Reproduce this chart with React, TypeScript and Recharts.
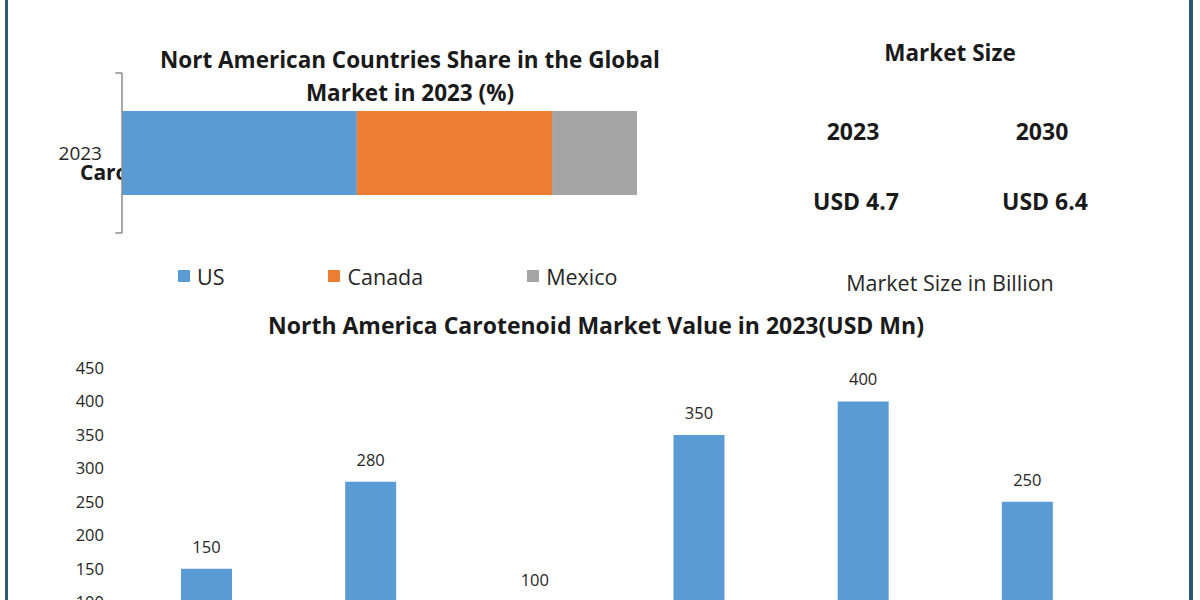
import React from 'react';
import { BarChart, Bar, XAxis, YAxis, Legend, LabelList, ReferenceLine } from 'recharts';

// ---- Top chart: share of North American countries (%)
const shareCategories = ['2023'];
const shareSeries = ['US', 'Canada', 'Mexico'];
const shareValues = [45.6, 37.9, 16.5];
const shareColors = ['#5b9bd5', '#ed7d31', '#a5a5a5'];

// ---- Market size panel
const sizeTitle = 'Market Size';
const sizeYears = ['2023', '2030'];
const sizeValues = ['USD 4.7', 'USD 6.4'];
const sizeNote = 'Market Size in Billion';

// ---- Bottom chart: market value (USD Mn)
const valueCategories = ['Beta-Carotene', 'Lutein', 'Lycopene', 'Astaxanthin', 'Zeaxanthin', 'Canthaxanthin'];
const valueValues = [150, 280, 100, 350, 400, 250];
const valueTicks = [0, 50, 100, 150, 200, 250, 300, 350, 400, 450];

const FONT = '"Open Sans", Lato, sans-serif';
const TEXT = '#1a1a1a';

const shareData = shareCategories.map((c) => {
  const row: Record<string, string | number> = { name: c };
  shareSeries.forEach((s, i) => {
    row[s] = shareValues[i];
  });
  return row;
});

const valueData = valueCategories.map((c, i) => ({ name: c, value: valueValues[i] }));

const ShareLegend = (props: any) => {
  const payload = [...(props.payload || [])].sort(
    (a: any, b: any) => shareSeries.indexOf(a.value) - shareSeries.indexOf(b.value)
  );
  return (
    <div
      style={{
        paddingTop: 29,
        height: 28,
        display: 'flex',
        alignItems: 'center',
        paddingLeft: 178,
        fontFamily: FONT,
        fontSize: 21.5,
        color: '#262626',
      }}
    >
      {payload.map((p: any) => (
        <div key={p.value} style={{ display: 'flex', alignItems: 'center', marginRight: 104 }}>
          <span style={{ display: 'inline-block', width: 12, height: 12, background: p.color, marginRight: 7 }} />
          <span>{p.value}</span>
        </div>
      ))}
    </div>
  );
};

const edgeTick = { stroke: '#8c8c8c', strokeWidth: 1.5 };

export default function App() {
  return (
    <div
      style={{
        position: 'absolute',
        left: 0,
        top: 0,
        width: 1200,
        height: 600,
        overflow: 'hidden',
        background: '#ffffff',
        fontFamily: FONT,
      }}
    >
      {/* clipped series caption sitting behind the bar */}
      <div
        style={{
          position: 'absolute',
          left: 80,
          top: 158,
          fontSize: 21,
          fontWeight: 700,
          color: TEXT,
          lineHeight: '28px',
          whiteSpace: 'nowrap',
        }}
      >
        Carotenoid
      </div>

      {/* top title */}
      <div
        style={{
          position: 'absolute',
          left: 110,
          top: 43,
          width: 600,
          textAlign: 'center',
          fontSize: 22.5,
          fontWeight: 700,
          lineHeight: '33px',
          color: TEXT,
          zIndex: 2,
        }}
      >
        Nort American Countries Share in the Global
        <br />
        Market in 2023 (%)
      </div>

      <div style={{ position: 'absolute', left: 0, top: 0, zIndex: 1 }}>
        <BarChart
          width={700}
          height={300}
          data={shareData}
          layout="vertical"
          margin={{ top: 73, right: 63, bottom: 10, left: 60 }}
        >
          <XAxis type="number" domain={[0, 100]} hide />
          <YAxis
            type="category"
            dataKey="name"
            width={62}
            axisLine={{ stroke: '#8c8c8c', strokeWidth: 1.5 }}
            tickLine={false}
            tickMargin={14}
            tick={{ fill: '#262626', fontSize: 19, fontFamily: FONT }}
          />
          {shareSeries.map((s, i) => (
            <Bar key={s} dataKey={s} stackId="share" fill={shareColors[i]} barSize={84} isAnimationActive={false} />
          ))}
          <ReferenceLine
            segment={[{ x: -1.3, y: shareCategories[0] }, { x: 0, y: shareCategories[0] }]}
            position="start"
            ifOverflow="visible"
            {...edgeTick}
          />
          <ReferenceLine
            segment={[{ x: -1.3, y: shareCategories[0] }, { x: 0, y: shareCategories[0] }]}
            position="end"
            ifOverflow="visible"
            {...edgeTick}
          />
          <Legend
            verticalAlign="bottom"
            content={<ShareLegend />}
            wrapperStyle={{ left: 0, width: 700 }}
          />
        </BarChart>
      </div>

      {/* market size panel */}
      <div
        style={{
          position: 'absolute',
          left: 800,
          top: 38,
          width: 300,
          textAlign: 'center',
          fontSize: 22.5,
          fontWeight: 700,
          lineHeight: '30px',
          color: TEXT,
        }}
      >
        {sizeTitle}
      </div>
      {sizeYears.map((y, i) => (
        <div
          key={y}
          style={{
            position: 'absolute',
            left: [853, 1042][i] - 80,
            top: 116,
            width: 160,
            textAlign: 'center',
            fontSize: 23,
            fontWeight: 700,
            lineHeight: '30px',
            color: TEXT,
          }}
        >
          {y}
        </div>
      ))}
      {sizeValues.map((v, i) => (
        <div
          key={v}
          style={{
            position: 'absolute',
            left: [856, 1045][i] - 80,
            top: 186,
            width: 160,
            textAlign: 'center',
            fontSize: 23,
            fontWeight: 700,
            lineHeight: '30px',
            color: TEXT,
          }}
        >
          {v}
        </div>
      ))}
      <div
        style={{
          position: 'absolute',
          left: 800,
          top: 269,
          width: 300,
          textAlign: 'center',
          fontSize: 21.5,
          lineHeight: '28px',
          color: '#262626',
        }}
      >
        {sizeNote}
      </div>

      {/* bottom title */}
      <div
        style={{
          position: 'absolute',
          left: 246,
          top: 310,
          width: 700,
          textAlign: 'center',
          fontSize: 23,
          fontWeight: 700,
          lineHeight: '30px',
          color: TEXT,
        }}
      >
        North America Carotenoid Market Value in 2023(USD Mn)
      </div>

      <div style={{ position: 'absolute', left: 0, top: 300 }}>
        <BarChart
          width={1200}
          height={440}
          data={valueData}
          margin={{ top: 68, right: 91, bottom: 41, left: 24 }}
        >
          <XAxis
            dataKey="name"
            height={30}
            axisLine={{ stroke: '#d9d9d9' }}
            tickLine={false}
            tick={{ fill: '#404040', fontSize: 16, fontFamily: FONT }}
          />
          <YAxis
            type="number"
            domain={[0, 450]}
            ticks={valueTicks}
            width={100}
            axisLine={false}
            tickLine={false}
            tickMargin={14}
            tick={{ fill: '#262626', fontSize: 16.5, fontFamily: FONT }}
          />
          <Bar dataKey="value" fill="#5b9bd5" barSize={51} isAnimationActive={false}>
            <LabelList
              dataKey="value"
              position="top"
              offset={16}
              style={{ fill: '#262626', fontSize: 16.5, fontFamily: FONT }}
            />
          </Bar>
        </BarChart>
      </div>

      {/* frame borders */}
      <div style={{ position: 'absolute', left: 5, top: 0, width: 3, height: 600, background: '#2e5a7a' }} />
      <div style={{ position: 'absolute', left: 1189, top: 0, width: 4, height: 600, background: '#2b5775' }} />
    </div>
  );
}
